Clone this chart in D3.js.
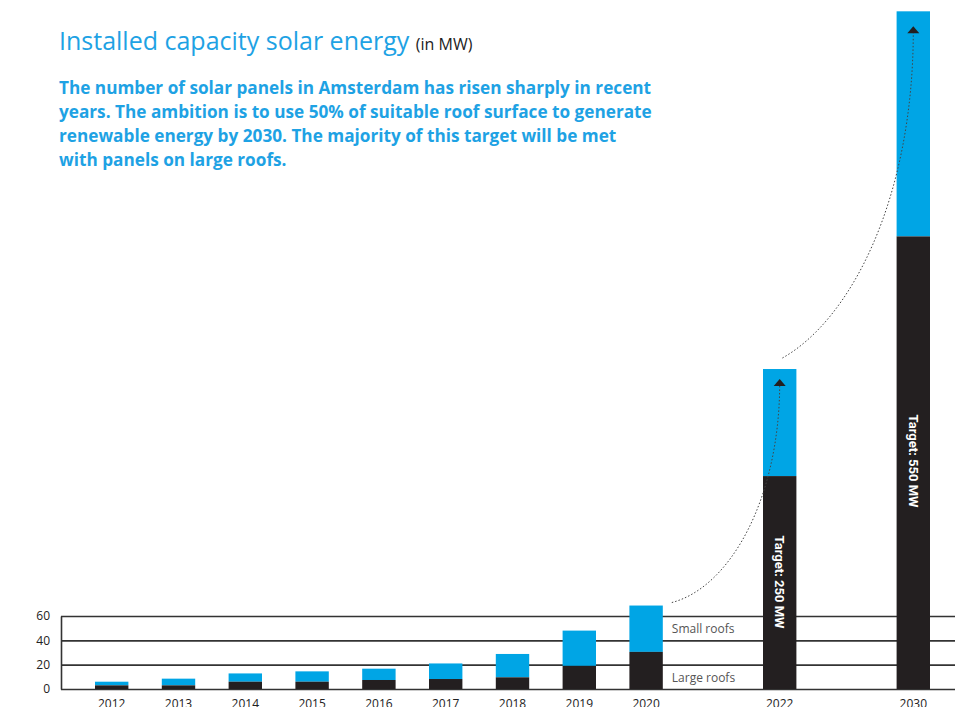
<!DOCTYPE html>
<html>
<head>
<meta charset="utf-8">
<script src="https://cdn.jsdelivr.net/npm/d3@7"></script>
<style>
  body { margin: 0; background: #fff; }
  svg { display: block; font-family: "Open Sans", sans-serif; }
</style>
</head>
<body>
<svg width="955" height="707"></svg>
<script>
// data (MW)
const years = ["2012", "2013", "2014", "2015", "2016", "2017", "2018", "2019", "2020", "2022", "2030"];
const largeRoofs = [3, 3, 6, 6, 7.4, 8.2, 9.6, 19, 30.5, 175, 372];
const totals = [6, 8.5, 12.8, 14.5, 16.7, 21, 28.8, 48, 68.6, 263, 557];
const yTicks = [0, 20, 40, 60];
const targets = {"2022": "Target: 250 MW", "2030": "Target: 550 MW"};

const svg = d3.select("svg");
const width = +svg.attr("width");

const black = "#231f20";
const blue = "#00a5e5";
const titleBlue = "#1ea2e4";

// slots: the gaps before 2022 and 2030 keep their room on the axis
const slots = [...years.slice(0, 9), "gap1", "2022", "gap2", "2030"];
const x = d3.scaleBand()
    .domain(slots)
    .range([61.6, 963.4])
    .paddingInner(0.5)
    .paddingOuter(0.5);
const y = d3.scaleLinear()
    .domain([0, 60])
    .range([689, 616]);

// gridlines and y labels
const yAxis = svg.append("g")
    .attr("transform", "translate(61,0)")
    .call(d3.axisLeft(y).tickValues(yTicks).tickSizeInner(-(width - 61)).tickSizeOuter(0).tickPadding(11));
yAxis.selectAll("line").attr("stroke", "#333").attr("stroke-width", 1.6);
yAxis.select(".domain").attr("stroke", "#333").attr("stroke-width", 1.6);
yAxis.selectAll("text").attr("font-size", 12).attr("fill", "#222").attr("font-family", "Open Sans");

// x labels
const xAxis = svg.append("g")
    .attr("transform", "translate(0,689)")
    .call(d3.axisBottom(x).tickValues(years).tickSize(0).tickPadding(10));
xAxis.select(".domain").remove();
xAxis.selectAll("text").attr("font-size", 12).attr("fill", "#222").attr("font-family", "Open Sans");

const rows = years.map((yr, i) => ({year: yr, large: largeRoofs[i], total: totals[i]}));

// bars: small roofs stacked on large roofs
const bars = svg.append("g");
bars.selectAll(".small")
    .data(rows)
    .join("rect")
    .attr("x", d => x(d.year))
    .attr("width", x.bandwidth())
    .attr("y", d => y(d.total))
    .attr("height", d => y(d.large) - y(d.total))
    .attr("fill", blue);
bars.selectAll(".large")
    .data(rows)
    .join("rect")
    .attr("x", d => x(d.year))
    .attr("width", x.bandwidth())
    .attr("y", d => y(d.large))
    .attr("height", d => y(0) - y(d.large))
    .attr("fill", black);

// rotated target labels
const targetPos = {"2022": 582, "2030": 461};
Object.keys(targets).forEach(yr => {
    const cx = x(yr) + x.bandwidth() / 2;
    svg.append("text")
        .attr("transform", `translate(${cx},${targetPos[yr]}) rotate(90)`)
        .attr("text-anchor", "middle")
        .attr("dy", "0.35em")
        .attr("font-size", 13)
        .attr("font-weight", "bold")
        .attr("fill", "#fff")
        .attr("font-family", "Roboto")
        .text(targets[yr]);
});

// legend labels next to the 2020 bar
const legX = x("2020") + x.bandwidth() + 9;
svg.append("text").attr("x", legX).attr("y", y(50) + 5)
    .attr("font-size", 12).attr("fill", "#555").text("Small roofs");
svg.append("text").attr("x", legX).attr("y", y(10) + 5)
    .attr("font-size", 12).attr("fill", "#555").text("Large roofs");

// dotted growth arrows
const arrow = (x0, y0, c1x, c1y, c2x, c2y, x1, y1) => {
    const p = d3.path();
    p.moveTo(x0, y0);
    p.bezierCurveTo(c1x, c1y, c2x, c2y, x1, y1);
    svg.append("path")
        .attr("d", p.toString())
        .attr("fill", "none")
        .attr("stroke", "#444")
        .attr("stroke-width", 1)
        .attr("stroke-dasharray", "1.5,2");
    svg.append("path")
        .attr("d", `M${x1 - 6},${y1 + 3}L${x1},${y1 - 4}L${x1 + 6},${y1 + 3}Z`)
        .attr("fill", black);
};
const c22 = x("2022") + x.bandwidth() / 2;
const c30 = x("2030") + x.bandwidth() / 2;
arrow(legX, y(totals[8]) - 3, legX + 58, y(totals[8]) - 18, c22, y(totals[9]) + 130, c22, y(totals[9]) + 14);
arrow(x("2022") + x.bandwidth() - 14, y(totals[9]) - 11, 850, 320, c30, 200, c30, y(totals[10]) + 19);

// titles
const title = svg.append("text").attr("x", 59).attr("y", 50);
title.append("tspan").attr("font-size", 25).attr("fill", titleBlue).text("Installed capacity solar energy ");
title.append("tspan").attr("font-size", 16).attr("fill", "#222").text("(in MW)");

const intro = [
    "The number of solar panels in Amsterdam has risen sharply in recent",
    "years. The ambition is to use 50% of suitable roof surface to generate",
    "renewable energy by 2030. The majority of this target will be met",
    "with panels on large roofs."
];
svg.append("g").selectAll("text")
    .data(intro)
    .join("text")
    .attr("x", 59)
    .attr("y", (d, i) => 94 + i * 24)
    .attr("font-size", 17.2)
    .attr("font-weight", "bold")
    .attr("fill", titleBlue)
    .text(d => d);
</script>
</body>
</html>
